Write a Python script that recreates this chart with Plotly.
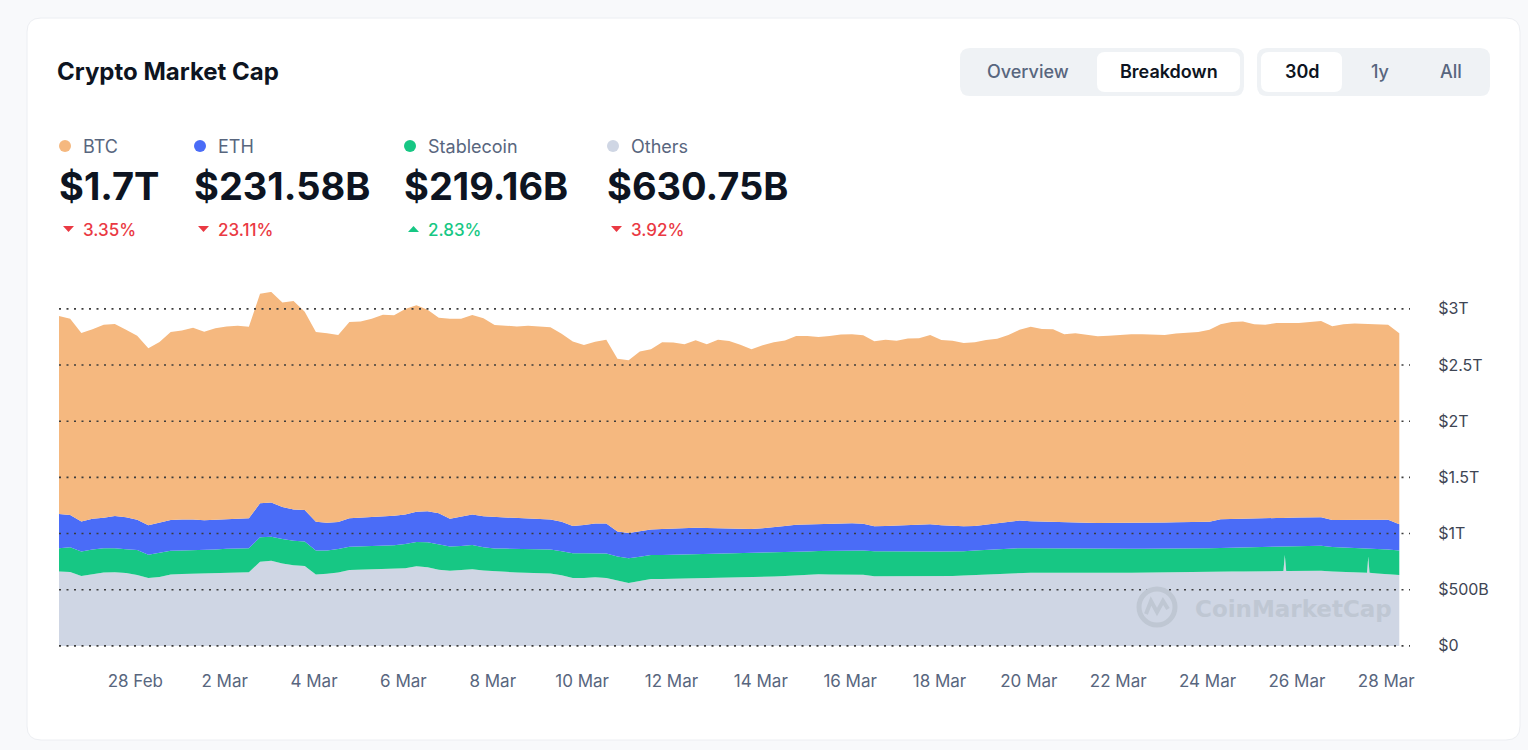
import plotly.graph_objects as go

# ---------------- data ----------------
times = [
    "2025-02-26 07:00", "2025-02-26 13:00", "2025-02-26 19:00",
    "2025-02-27 01:00", "2025-02-27 07:00", "2025-02-27 13:00", "2025-02-27 19:00",
    "2025-02-28 01:00", "2025-02-28 07:00", "2025-02-28 13:00", "2025-02-28 19:00",
    "2025-03-01 01:00", "2025-03-01 07:00", "2025-03-01 13:00", "2025-03-01 19:00",
    "2025-03-02 01:00", "2025-03-02 07:00", "2025-03-02 13:00", "2025-03-02 19:00",
    "2025-03-03 01:00", "2025-03-03 07:00", "2025-03-03 13:00", "2025-03-03 19:00",
    "2025-03-04 01:00", "2025-03-04 07:00", "2025-03-04 13:00", "2025-03-04 19:00",
    "2025-03-05 01:00", "2025-03-05 07:00", "2025-03-05 13:00", "2025-03-05 19:00",
    "2025-03-06 01:00", "2025-03-06 07:00", "2025-03-06 13:00", "2025-03-06 19:00",
    "2025-03-07 01:00", "2025-03-07 07:00", "2025-03-07 13:00", "2025-03-07 19:00",
    "2025-03-08 01:00", "2025-03-08 07:00", "2025-03-08 13:00", "2025-03-08 19:00",
    "2025-03-09 01:00", "2025-03-09 07:00", "2025-03-09 13:00", "2025-03-09 19:00",
    "2025-03-10 01:00", "2025-03-10 07:00", "2025-03-10 13:00", "2025-03-10 19:00",
    "2025-03-11 01:00", "2025-03-11 07:00", "2025-03-11 13:00", "2025-03-11 19:00",
    "2025-03-12 01:00", "2025-03-12 07:00", "2025-03-12 13:00", "2025-03-12 19:00",
    "2025-03-13 01:00", "2025-03-13 07:00", "2025-03-13 13:00", "2025-03-13 19:00",
    "2025-03-14 01:00", "2025-03-14 07:00", "2025-03-14 13:00", "2025-03-14 19:00",
    "2025-03-15 01:00", "2025-03-15 07:00", "2025-03-15 13:00", "2025-03-15 19:00",
    "2025-03-16 01:00", "2025-03-16 07:00", "2025-03-16 13:00", "2025-03-16 19:00",
    "2025-03-17 01:00", "2025-03-17 07:00", "2025-03-17 13:00", "2025-03-17 19:00",
    "2025-03-18 01:00", "2025-03-18 07:00", "2025-03-18 13:00", "2025-03-18 19:00",
    "2025-03-19 01:00", "2025-03-19 07:00", "2025-03-19 13:00", "2025-03-19 19:00",
    "2025-03-20 01:00", "2025-03-20 07:00", "2025-03-20 13:00", "2025-03-20 19:00",
    "2025-03-21 01:00", "2025-03-21 07:00", "2025-03-21 13:00", "2025-03-21 19:00",
    "2025-03-22 01:00", "2025-03-22 07:00", "2025-03-22 13:00", "2025-03-22 19:00",
    "2025-03-23 01:00", "2025-03-23 07:00", "2025-03-23 13:00", "2025-03-23 19:00",
    "2025-03-24 01:00", "2025-03-24 07:00", "2025-03-24 13:00", "2025-03-24 19:00",
    "2025-03-25 01:00", "2025-03-25 07:00", "2025-03-25 13:00",
    "2025-03-25 16:45", "2025-03-25 17:30", "2025-03-25 18:15", "2025-03-25 19:00",
    "2025-03-26 01:00", "2025-03-26 07:00", "2025-03-26 13:00", "2025-03-26 19:00",
    "2025-03-27 01:00", "2025-03-27 07:00", "2025-03-27 13:00",
    "2025-03-27 13:40", "2025-03-27 14:20", "2025-03-27 15:00", "2025-03-27 19:00",
    "2025-03-28 01:00", "2025-03-28 07:00",
]

# market caps in billions USD
others = [
    661, 657, 623, 641, 654, 656, 648, 632, 604, 614,
    636, 639, 641, 645, 647, 650, 653, 655, 748, 757,
    734, 717, 712, 636, 641, 654, 675, 677, 678, 680,
    683, 690, 708, 699, 678, 668, 675, 682, 672, 663,
    659, 653, 650, 647, 645, 628, 604, 605, 610, 605,
    580, 559, 577, 595, 596, 598, 600, 602, 604, 605,
    606, 608, 610, 613, 618, 623, 628, 633, 637, 636,
    636, 635, 634, 619, 619, 620, 620, 621, 621, 622,
    623, 627, 632, 636, 641, 647, 652, 652, 651, 650,
    649, 648, 647, 647, 648, 650, 651, 653, 654, 655,
    657, 658, 660, 661, 661, 662, 663, 664, 665, 666,
    666, 810, 666,
    667, 668, 668, 668, 663, 659, 654, 650,
    650, 795, 650,
    645, 641, 631,
]
stablecoin = [
    208, 220, 218, 218, 214, 212, 213, 221, 207, 218,
    211, 210, 210, 210, 212, 214, 214, 214, 218, 215,
    218, 218, 216, 214, 209, 209, 208, 209, 210, 212,
    213, 216, 216, 223, 223, 216, 215, 215, 205, 204,
    207, 210, 213, 215, 214, 214, 221, 220, 215, 218,
    216, 222, 217, 214, 214, 214, 214, 214, 214, 214,
    215, 215, 215, 214, 213, 210, 208, 207, 207, 209,
    210, 212, 214, 223, 224, 223, 222, 220, 220, 218,
    216, 216, 217, 219, 221, 220, 218, 216, 216, 215,
    215, 215, 215, 214, 214, 213, 213, 212, 211, 211,
    210, 210, 209, 208, 211, 212, 213, 214, 215, 215,
    215, 72, 215,
    216, 217, 220, 223, 218, 218, 218, 218,
    218, 72, 218,
    218, 218, 219,
]
eth = [
    305, 289, 267, 272, 272, 289, 283, 269, 263, 267,
    274, 277, 275, 263, 263, 267, 267, 266, 303, 305,
    285, 280, 282, 254, 245, 240, 252, 254, 260, 261,
    262, 264, 269, 276, 279, 247, 263, 273, 276, 281,
    279, 272, 268, 264, 265, 263, 243, 252, 265, 267,
    223, 223, 225, 226, 231, 234, 237, 235, 231, 227,
    223, 219, 215, 219, 229, 235, 242, 241, 240, 242,
    246, 244, 239, 223, 225, 228, 235, 240, 241, 233,
    229, 221, 219, 226, 229, 241, 245, 242, 239, 236,
    234, 234, 233, 232, 231, 231, 231, 231, 232, 233,
    234, 234, 235, 237, 256, 257, 257, 257, 257, 257,
    257, 257, 257,
    257, 257, 256, 255, 240, 245, 249, 254,
    254, 255, 254,
    258, 263, 232,
]
btc = [
    1763, 1745, 1678, 1687, 1718, 1709, 1669, 1638, 1576, 1607,
    1674, 1682, 1705, 1678, 1705, 1712, 1715, 1705, 1865, 1874,
    1820, 1856, 1765, 1691, 1687, 1665, 1749, 1747, 1763, 1794,
    1785, 1829, 1838, 1794, 1740, 1780, 1758, 1776, 1763, 1709,
    1705, 1709, 1718, 1718, 1712, 1674, 1642, 1602, 1618, 1634,
    1536, 1538, 1602, 1605, 1662, 1654, 1634, 1669, 1636, 1678,
    1669, 1638, 1601, 1629, 1642, 1651, 1681, 1678, 1666, 1672,
    1680, 1682, 1678, 1647, 1656, 1644, 1658, 1658, 1685, 1650,
    1647, 1631, 1635, 1642, 1642, 1660, 1699, 1730, 1714, 1718,
    1675, 1686, 1674, 1663, 1667, 1673, 1680, 1677, 1673, 1669,
    1679, 1688, 1691, 1709, 1735, 1751, 1755, 1727, 1721, 1737,
    1737, 1736, 1737,
    1738, 1731, 1740, 1746, 1724, 1741, 1748, 1742,
    1742, 1741, 1742,
    1739, 1737, 1700,
]

y_tickvals = [0, 500, 1000, 1500, 2000, 2500, 3000]
y_ticktext = ["$0", "$500B", "$1T", "$1.5T", "$2T", "$2.5T", "$3T"]

series_names = ["BTC", "ETH", "Stablecoin", "Others"]
headline_values = ["$1.7T", "$231.58B", "$219.16B", "$630.75B"]
headline_changes = ["3.35%", "23.11%", "2.83%", "3.92%"]
change_up = [False, False, True, False]

assert len(times) == len(others) == len(stablecoin) == len(eth) == len(btc)

# ---------------- style ----------------
FONT = "Inter, 'Noto Sans', sans-serif"
DARK = "#0D1421"
GREY = "#58667E"
RED = "#EA3943"
GREEN_TXT = "#16C784"
COL = {"BTC": "#F5B87F", "ETH": "#4A6CF7", "Stablecoin": "#17C784", "Others": "#CFD6E4"}

W, H = 1528, 750
L, R, T, B = 59, 1410, 292, 647


def px(x):
    return (x - L) / (R - L)


def py(y):
    return (B - y) / (B - T)


def rr_path(x0, y0, x1, y1, r):
    X, Y = px, py
    return (f"M {X(x0 + r)},{Y(y0)} L {X(x1 - r)},{Y(y0)} Q {X(x1)},{Y(y0)} {X(x1)},{Y(y0 + r)} "
            f"L {X(x1)},{Y(y1 - r)} Q {X(x1)},{Y(y1)} {X(x1 - r)},{Y(y1)} "
            f"L {X(x0 + r)},{Y(y1)} Q {X(x0)},{Y(y1)} {X(x0)},{Y(y1 - r)} "
            f"L {X(x0)},{Y(y0 + r)} Q {X(x0)},{Y(y0)} {X(x0 + r)},{Y(y0)} Z")


fig = go.Figure()
for name, vals in [("Others", others), ("Stablecoin", stablecoin), ("ETH", eth), ("BTC", btc)]:
    fig.add_trace(go.Scatter(
        x=times, y=vals, name=name, mode="lines", stackgroup="one",
        line=dict(width=0, color=COL[name]), fillcolor=COL[name],
        hoverinfo="skip", showlegend=False,
    ))

shapes = []
annotations = []

# card
shapes.append(dict(type="path", xref="paper", yref="paper", path=rr_path(27, 18, 1520, 740, 14),
                   fillcolor="white", line=dict(color="#ECEEF2", width=1), layer="below"))

# button groups
shapes.append(dict(type="path", xref="paper", yref="paper", path=rr_path(960, 48, 1244, 96, 10),
                   fillcolor="#EFF2F5", line=dict(width=0), layer="above"))
shapes.append(dict(type="path", xref="paper", yref="paper", path=rr_path(1097, 52, 1240, 92, 8),
                   fillcolor="white", line=dict(width=0), layer="above"))
shapes.append(dict(type="path", xref="paper", yref="paper", path=rr_path(1257, 48, 1490, 96, 10),
                   fillcolor="#EFF2F5", line=dict(width=0), layer="above"))
shapes.append(dict(type="path", xref="paper", yref="paper", path=rr_path(1261, 52, 1342, 92, 8),
                   fillcolor="white", line=dict(width=0), layer="above"))


def ann(text, x, y, size, color, weight=400, xanchor="left", family=FONT):
    return dict(text=text, x=px(x), y=py(y), xref="paper", yref="paper", xanchor=xanchor,
                yanchor="middle", showarrow=False,
                font=dict(family=family, size=size, color=color, weight=weight))


annotations.append(ann("Crypto Market Cap", 55, 72, 24, DARK, 700))
annotations.append(ann("Overview", 1028, 72, 18, GREY, 500, "center"))
annotations.append(ann("Breakdown", 1169, 72, 18, DARK, 600, "center"))
annotations.append(ann("30d", 1302, 72, 18, DARK, 600, "center"))
annotations.append(ann("1y", 1380, 72, 18, GREY, 500, "center"))
annotations.append(ann("All", 1451, 72, 18, GREY, 500, "center"))

group_x = [59, 194, 404, 607]
for gx, name, val, chg, up in zip(group_x, series_names, headline_values, headline_changes, change_up):
    cx, cy, r = gx + 6, 146, 6
    shapes.append(dict(type="circle", xref="paper", yref="paper", x0=px(cx - r), x1=px(cx + r),
                       y0=py(cy + r), y1=py(cy - r), fillcolor=COL[name], line=dict(width=0)))
    annotations.append(ann(name, gx + 22, 146, 18, GREY, 400))
    annotations.append(ann(val, gx - 2, 186, 38, DARK, 700))
    col = GREEN_TXT if up else RED
    tx0, tx1 = gx + 4, gx + 15
    if up:
        path = f"M {px(tx0)},{py(232)} L {px(tx1)},{py(232)} L {px((tx0 + tx1) / 2)},{py(226)} Z"
    else:
        path = f"M {px(tx0)},{py(226)} L {px(tx1)},{py(226)} L {px((tx0 + tx1) / 2)},{py(232)} Z"
    shapes.append(dict(type="path", xref="paper", yref="paper", path=path, fillcolor=col, line=dict(width=0)))
    annotations.append(ann(chg, gx + 22, 229.5, 17, col, 500))

# dotted grid lines drawn over the areas
for v in y_tickvals:
    shapes.append(dict(type="line", xref="paper", yref="y", x0=0, x1=1, y0=v, y1=v,
                       line=dict(color="#3C3C3C", width=1.6, dash="2px,5.5px"), layer="above"))

# watermark
wm = "#BFC7D3"
shapes.append(dict(type="circle", xref="paper", yref="paper", x0=px(1139), x1=px(1175),
                   y0=py(625), y1=py(589), line=dict(color=wm, width=5), layer="above"))
shapes.append(dict(type="path", xref="paper", yref="paper",
                   path=f"M {px(1146)},{py(614)} L {px(1151)},{py(601)} L {px(1157)},{py(612)} "
                        f"L {px(1163)},{py(601)} L {px(1168)},{py(609)}",
                   line=dict(color=wm, width=4), layer="above"))
annotations.append(ann("CoinMarketCap", 1193, 609, 23, wm, 700, family="'DejaVu Sans', sans-serif"))

fig.update_layout(
    width=W, height=H,
    margin=dict(l=L, r=W - R, t=T, b=H - B, autoexpand=False),
    paper_bgcolor="#F8F9FB", plot_bgcolor="white",
    font=dict(family=FONT, color=GREY),
    shapes=shapes, annotations=annotations,
    showlegend=False,
    xaxis=dict(
        type="date", range=["2025-02-26 07:00", "2025-03-28 12:45"],
        tick0="2025-02-28", dtick=2 * 86400000, tickformat="%-d %b",
        showgrid=False, zeroline=False, showline=False,
        ticks="outside", ticklen=19, tickcolor="rgba(0,0,0,0)",
        tickfont=dict(family=FONT, size=17, color=GREY), fixedrange=True,
    ),
    yaxis=dict(
        range=[-10, 3150], side="right", tickvals=y_tickvals, ticktext=y_ticktext,
        showgrid=False, zeroline=False, showline=False,
        ticks="outside", ticklen=24, tickcolor="rgba(0,0,0,0)",
        tickfont=dict(family=FONT, size=16, color="#3E4554"), fixedrange=True,
    ),
)

fig.write_html("out.html", config={"displayModeBar": False})
